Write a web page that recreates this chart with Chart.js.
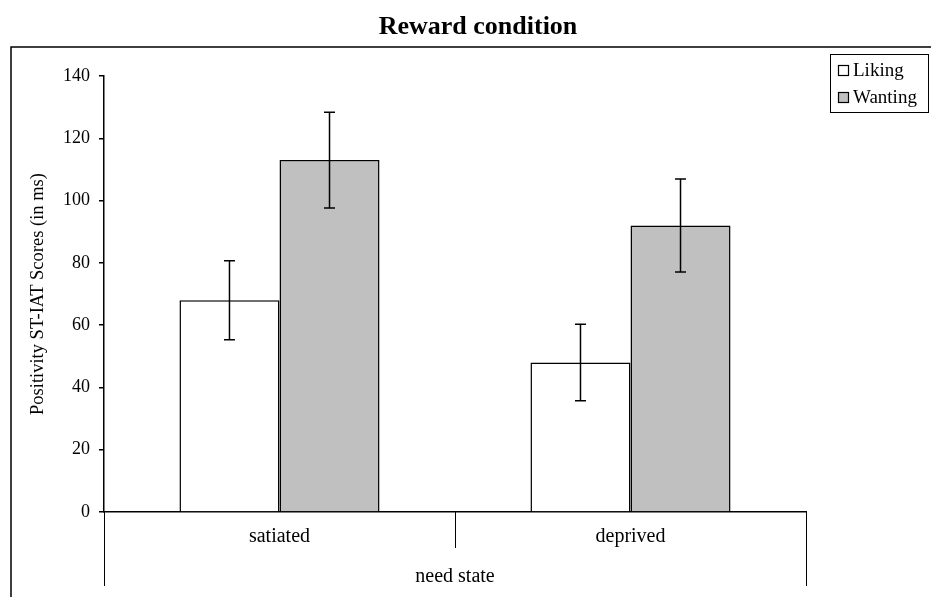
<!DOCTYPE html>
<html>
<head>
<meta charset="utf-8">
<script src="https://cdn.jsdelivr.net/npm/chart.js@4/dist/chart.umd.min.js"></script>
<style>
html,body{margin:0;padding:0;background:#fff;}
#wrap{width:931px;height:597px;position:relative;}
</style>
</head>
<body>
<div id="wrap"><canvas id="c" width="931" height="597"></canvas></div>
<script>
const chartTitle = 'Reward condition';
const categories = ['satiated', 'deprived'];
const groupTitle = 'need state';
const yTitle = 'Positivity ST-IAT Scores (in ms)';
const likingValues = [68, 48];
const likingErrors = [12.7, 12.3];
const wantingValues = [113, 92];
const wantingErrors = [15.4, 14.9];
const seriesNames = ['Liking', 'Wanting'];

const SERIF = '"Liberation Serif", "Times New Roman", serif';

const decorPlugin = {
  id: 'decor',
  afterDatasetsDraw(chart) {
    const ctx = chart.ctx;
    chart.data.datasets.forEach((ds, di) => {
      const meta = chart.getDatasetMeta(di);
      const ys = chart.scales.y;
      meta.data.forEach((bar, i) => {
        const v = ds.data[i], e = ds.errors[i];
        const yt = ys.getPixelForValue(v + e), yb = ys.getPixelForValue(v - e);
        const x = bar.x;
        ctx.save();
        ctx.strokeStyle = '#000';
        ctx.lineWidth = 1.5;
        ctx.beginPath();
        ctx.moveTo(x, yt); ctx.lineTo(x, yb);
        ctx.moveTo(x - 5.5, yt); ctx.lineTo(x + 5.5, yt);
        ctx.moveTo(x - 5.5, yb); ctx.lineTo(x + 5.5, yb);
        ctx.stroke();
        ctx.restore();
      });
    });
  },
  afterDraw(chart) {
    const ctx = chart.ctx;
    const xs = chart.scales.x;
    const ca = chart.chartArea;
    ctx.save();
    ctx.strokeStyle = '#000';
    ctx.lineWidth = 1.5;
    ctx.beginPath();
    ctx.moveTo(11, 597); ctx.lineTo(11, 47); ctx.lineTo(931, 47);
    ctx.stroke();
    ctx.fillStyle = '#000';
    ctx.font = 'bold 26px ' + SERIF;
    ctx.textAlign = 'center';
    ctx.textBaseline = 'alphabetic';
    ctx.fillText(chartTitle, 478, 34);
    ctx.lineWidth = 1;
    const n = chart.data.labels.length;
    const bounds = [];
    for (let i = 0; i <= n; i++) {
      let x;
      if (i === 0) x = ca.left;
      else if (i === n) x = ca.right;
      else x = (xs.getPixelForValue(i - 1) + xs.getPixelForValue(i)) / 2;
      bounds.push(x);
    }
    ctx.beginPath();
    bounds.forEach((x, i) => {
      const bottom = (i === 0 || i === n) ? 586 : 548;
      ctx.moveTo(Math.round(x) + 0.5, ca.bottom);
      ctx.lineTo(Math.round(x) + 0.5, bottom);
    });
    ctx.stroke();
    // legend
    const lx = 830, ly = 54, lw = 98, lh = 58;
    ctx.lineWidth = 1;
    ctx.strokeRect(lx + 0.5, ly + 0.5, lw, lh);
    ctx.font = '19px ' + SERIF;
    ctx.textAlign = 'left';
    ctx.textBaseline = 'alphabetic';
    chart.data.datasets.forEach((ds, i) => {
      const cy = 70 + i * 27;
      ctx.fillStyle = ds.backgroundColor;
      ctx.fillRect(838, cy - 5, 11, 11);
      ctx.strokeStyle = '#000';
      ctx.lineWidth = 1.2;
      ctx.strokeRect(838.5, cy - 4.5, 10, 10);
      ctx.fillStyle = '#000';
      ctx.fillText(ds.label, 853, cy + 6);
    });
    ctx.restore();
  }
};

new Chart(document.getElementById('c'), {
  type: 'bar',
  data: {
    labels: categories,
    datasets: [
      { label: seriesNames[0], data: likingValues, errors: likingErrors,
        backgroundColor: '#ffffff', borderColor: '#000', borderWidth: 1.5 },
      { label: seriesNames[1], data: wantingValues, errors: wantingErrors,
        backgroundColor: '#c0c0c0', borderColor: '#000', borderWidth: 1.5 }
    ]
  },
  options: {
    responsive: false,
    animation: false,
    devicePixelRatio: 1,
    categoryPercentage: 0.57,
    barPercentage: 1.0,
    layout: { padding: { left: 0, top: 76, right: 125, bottom: 0 } },
    plugins: { legend: { display: false }, title: { display: false }, tooltip: { enabled: false } },
    scales: {
      x: {
        grid: { display: false, drawTicks: false },
        border: { display: true, color: '#000', width: 1.5 },
        ticks: { color: '#000', font: { family: SERIF, size: 20 }, padding: 13 },
        title: { display: true, text: groupTitle, color: '#000', font: { family: SERIF, size: 20 }, padding: { top: 0, bottom: 8 } },
        afterFit(s) { s.height = 85; }
      },
      y: {
        min: 0, max: 140,
        ticks: { stepSize: 20, color: '#000', font: { family: SERIF, size: 18 }, padding: 9 },
        grid: { drawOnChartArea: false, drawTicks: true, tickLength: 5, color: '#000', lineWidth: 1.5 },
        border: { display: true, color: '#000', width: 1.5 },
        title: { display: true, text: yTitle, color: '#000', font: { family: SERIF, size: 18.5 }, padding: { top: 27, bottom: 0 } },
        afterFit(s) { s.width = 104; }
      }
    }
  },
  plugins: [decorPlugin]
});
</script>
</body>
</html>
